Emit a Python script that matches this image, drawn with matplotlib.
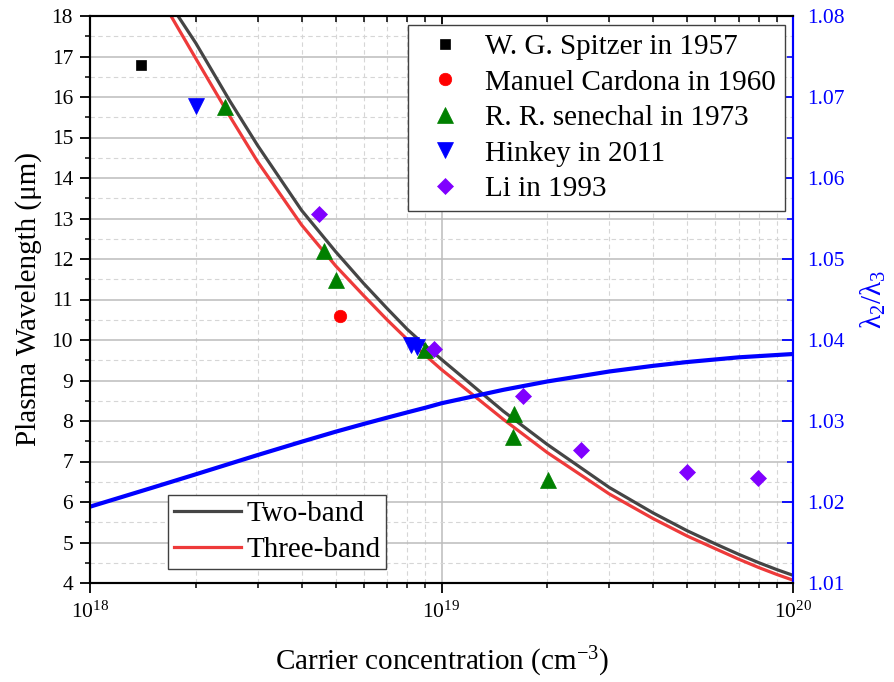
import matplotlib
matplotlib.use('Agg')
import matplotlib.pyplot as plt
from matplotlib.ticker import MultipleLocator, LogLocator, FormatStrFormatter

# ---------------- data ----------------
spitzer_n = [1.40e18]
spitzer_lam = [16.78]
cardona_n = [5.16e18]
cardona_lam = [10.60]
senechal_n = [2.42e18, 4.63e18, 5.0e18, 9.0e18, 1.61e19, 1.60e19, 2.01e19]
senechal_lam = [15.75, 12.2, 11.48, 9.75, 8.17, 7.61, 6.54]
hinkey_n = [2.0e18, 8.2e18, 8.5e18]
hinkey_lam = [15.77, 9.87, 9.83]
li_n = [4.49e18, 9.53e18, 1.70e19, 2.49e19, 4.99e19, 7.96e19]
li_lam = [13.10, 9.79, 8.62, 7.28, 6.75, 6.60]

two_band_n = [1.78e18, 2e18, 2.5e18, 3e18, 4e18, 5e18, 6e18, 7e18, 8e18, 9e18,
              1e19, 1.5e19, 2e19, 3e19, 4e19, 5e19, 6e19, 7e19, 8e19, 9e19, 1e20]
two_band_lam = [18.0, 17.33, 15.90, 14.80, 13.20, 12.18, 11.40, 10.78, 10.26, 9.86,
                9.52, 8.24, 7.42, 6.36, 5.73, 5.29, 4.97, 4.71, 4.50, 4.33, 4.19]

three_band_n = [1.70e18, 2e18, 2.5e18, 3e18, 4e18, 5e18, 6e18, 7e18, 8e18, 9e18,
                1e19, 1.5e19, 2e19, 3e19, 4e19, 5e19, 6e19, 7e19, 8e19, 9e19, 1e20]
three_band_lam = [18.0, 16.95, 15.52, 14.40, 12.84, 11.83, 11.10, 10.50, 10.01, 9.62,
                  9.27, 8.04, 7.22, 6.20, 5.59, 5.16, 4.85, 4.59, 4.38, 4.21, 4.07]

ratio_n = [1e18, 1.5e18, 2e18, 3e18, 4e18, 5e18, 6e18, 7e18, 8e18, 9e18, 1e19,
           1.5e19, 2e19, 3e19, 4e19, 5e19, 7e19, 1e20]
ratio_val = [1.01942, 1.02175, 1.02342, 1.02580, 1.02744, 1.02868, 1.02963, 1.03041,
             1.03107, 1.03164, 1.03219, 1.03385, 1.03488, 1.03611, 1.03681, 1.03728,
             1.03786, 1.03827]

# ---------------- style ----------------
plt.rcParams['font.family'] = ['Liberation Serif', 'DejaVu Serif']
plt.rcParams['mathtext.fontset'] = 'custom'
plt.rcParams['mathtext.rm'] = 'Liberation Serif'
plt.rcParams['mathtext.it'] = 'Liberation Serif:italic'
plt.rcParams['mathtext.bf'] = 'Liberation Serif:bold'

FS = 21
TFS = 15.5

fig = plt.figure(figsize=(8.94, 6.82), dpi=100)
ax = fig.add_axes([90 / 894, 1 - 583 / 682, 703 / 894, 567 / 682])

ax.plot(two_band_n, two_band_lam, color='#454545', lw=2.3, label='Two-band', zorder=2)
ax.plot(three_band_n, three_band_lam, color='#ee3a3a', lw=2.3, label='Three-band', zorder=2)

mk = dict(linestyle='none', zorder=3, markeredgewidth=0.5)
h1, = ax.plot(spitzer_n, spitzer_lam, marker='s', ms=7.8, color='black', label='W. G. Spitzer in 1957', **mk)
h2, = ax.plot(cardona_n, cardona_lam, marker='o', ms=9.0, color='#ff0000', label='Manuel Cardona in 1960', **mk)
h3, = ax.plot(senechal_n, senechal_lam, marker='^', ms=11.0, color='#008000', label='R. R. senechal in 1973', **mk)
h4, = ax.plot(hinkey_n, hinkey_lam, marker='v', ms=11.0, color='#0000ff', label='Hinkey in 2011', **mk)
h5, = ax.plot(li_n, li_lam, marker='D', ms=8.4, color='#8000ff', label='Li in 1993', **mk)

ax.set_xscale('log')
ax.set_xlim(1e18, 1e20)
ax.set_ylim(4, 18)
ax.yaxis.set_major_locator(MultipleLocator(1))
ax.yaxis.set_minor_locator(MultipleLocator(0.5))
ax.xaxis.set_major_locator(LogLocator(base=10, numticks=10))
ax.xaxis.set_minor_locator(LogLocator(base=10, subs=range(2, 10), numticks=20))

ax.set_axisbelow(True)
ax.grid(which='major', color='#bcbcbc', lw=1.1)
ax.grid(which='minor', color='#d6d6d6', ls=(0, (4, 3)), lw=0.8)

ax.tick_params(axis='both', which='major', direction='out', length=7.2, width=1.3,
               labelsize=TFS, right=False, top=False)
ax.tick_params(axis='both', which='minor', direction='out', length=3.8, width=1.1,
               right=False, top=False)
ax.tick_params(axis='y', which='major', pad=5)
ax.tick_params(axis='x', which='major', pad=6)

for s in ['left', 'bottom', 'top']:
    ax.spines[s].set_linewidth(1.5)
    ax.spines[s].set_color('black')
ax.spines['right'].set_color('blue')
ax.spines['right'].set_linewidth(1.5)

ax.set_ylabel('Plasma Wavelength (μm)', fontsize=FS, labelpad=7)
ax.set_xlabel('Carrier concentration (cm$^{-3}$)', fontsize=FS, labelpad=16)

# right axis
ax2 = ax.twinx()
ax2.plot(ratio_n, ratio_val, color='#0000ff', lw=3.0, zorder=2)
ax2.set_ylim(1.01, 1.08)
ax2.yaxis.set_major_locator(MultipleLocator(0.01))
ax2.yaxis.set_minor_locator(MultipleLocator(0.005))
ax2.yaxis.set_major_formatter(FormatStrFormatter('%.2f'))
ax2.tick_params(axis='y', which='major', direction='in', length=8, width=1.3,
                colors='blue', labelsize=TFS, pad=10)
ax2.tick_params(axis='y', which='minor', direction='in', length=4.5, width=1.1, colors='blue')
ax2.xaxis.set_visible(True)
ax2.tick_params(axis='x', which='both', direction='in', bottom=False, top=True,
                labelbottom=False, labeltop=False)
ax2.tick_params(axis='x', which='major', length=5.5, width=1.3)
ax2.tick_params(axis='x', which='minor', length=4.0, width=1.1)
for s in ['left', 'bottom', 'top']:
    ax2.spines[s].set_linewidth(1.5)
    ax2.spines[s].set_color('black')
ax2.spines['right'].set_color('blue')
ax2.spines['right'].set_linewidth(1.5)
ax2.set_ylabel('λ$_2$/λ$_3$', color='blue', fontsize=FS, labelpad=10)

# legends
leg_kw = dict(fontsize=FS, frameon=True, fancybox=False, edgecolor='#404040', framealpha=1,
              borderaxespad=0, numpoints=1)
leg1 = ax2.legend(handles=[h1, h2, h3, h4, h5], loc='upper right',
                  bbox_to_anchor=(0.9886, 0.9841), borderpad=0.3, labelspacing=0.31,
                  handlelength=1.87, handletextpad=0.47, **leg_kw)
ax2.add_artist(leg1)
lines = ax.get_lines()[:2]
leg2 = ax2.legend(handles=lines, loc='lower left', bbox_to_anchor=(0.111, 0.0247),
                  borderpad=0.2, labelspacing=0.33,
                  handlelength=2.3, handletextpad=0.18, **leg_kw)
for lg in (leg1, leg2):
    lg.get_frame().set_linewidth(1.0)

fig.savefig('out.png', dpi=100)
